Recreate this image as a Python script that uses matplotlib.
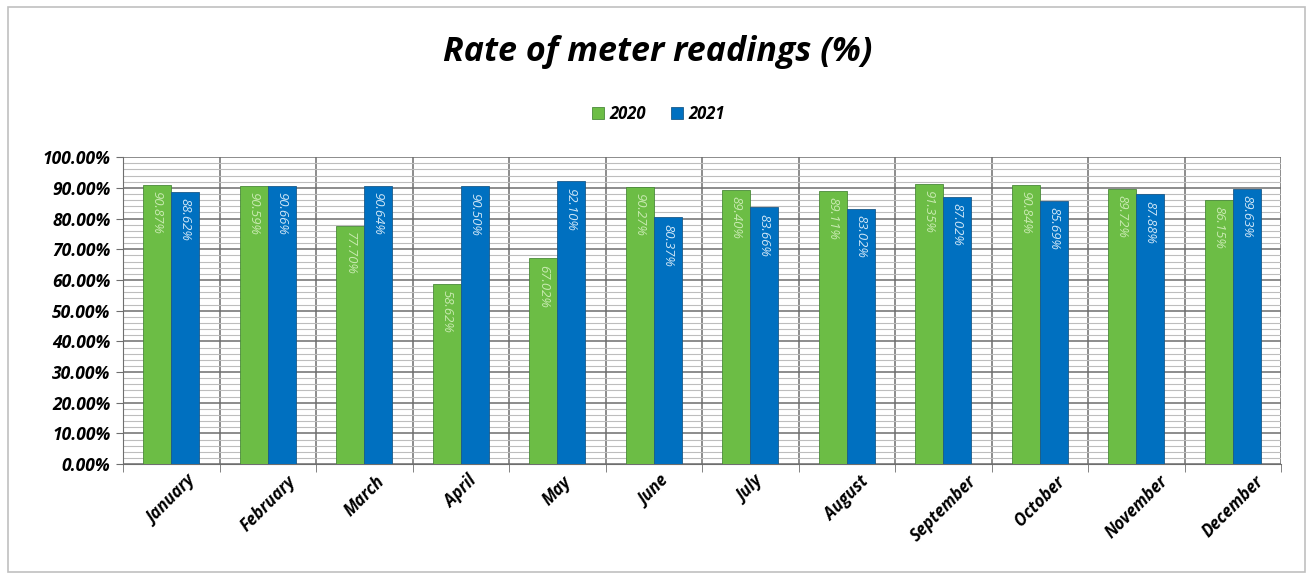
import matplotlib.pyplot as plt
import numpy as np
from matplotlib.ticker import MultipleLocator, FuncFormatter
from matplotlib.patches import Rectangle

months = ['January', 'February', 'March', 'April', 'May', 'June', 'July',
          'August', 'September', 'October', 'November', 'December']
rate_2020 = [90.87, 90.59, 77.70, 58.62, 67.02, 90.27, 89.40, 89.11, 91.35, 90.84, 89.72, 86.15]
rate_2021 = [88.62, 90.66, 90.64, 90.50, 92.10, 80.37, 83.66, 83.02, 87.02, 85.69, 87.88, 89.63]
series = ['2020', '2021']

green = '#6cbd45'
blue = '#0070c0'
font = 'Open Sans'

fig = plt.figure(figsize=(13.16, 5.78), dpi=100)
ax = fig.add_axes([0.0935, 0.197, 0.88, 0.531])

# outer frame of the chart
fig.patches.append(Rectangle((0.006, 0.01), 0.986, 0.978, transform=fig.transFigure,
                             fill=False, edgecolor='#c0c0c0', linewidth=1.2))

x = np.arange(len(months))
w = 0.29
b1 = ax.bar(x - w / 2, rate_2020, w, color=green, edgecolor='#4a8a3a', linewidth=0.6,
            label=series[0], zorder=3)
b2 = ax.bar(x + w / 2, rate_2021, w, color=blue, edgecolor='#1a5a8a', linewidth=0.6,
            label=series[1], zorder=3)

for bars, vals, tc in [(b1, rate_2020, '#c8eab0'), (b2, rate_2021, '#cfe6f7')]:
    for rect, v in zip(bars, vals):
        ax.text(rect.get_x() + rect.get_width() / 2, v - 2.0, f'{v:.2f}%',
                rotation=270, ha='center', va='top', fontsize=9.5, color=tc,
                family=font, style='italic', zorder=4)

ax.set_xlim(-0.5, len(months) - 0.5)
ax.set_ylim(0, 100)
ax.yaxis.set_major_locator(MultipleLocator(10))
ax.yaxis.set_minor_locator(MultipleLocator(2))
ax.yaxis.set_major_formatter(FuncFormatter(lambda v, p: f'{v:.2f}%'))
ax.grid(which='major', axis='y', color='#6e6e6e', linewidth=1.1, zorder=0)
ax.grid(which='minor', axis='y', color='#bdbdbd', linewidth=0.8, zorder=0)

# vertical category separators
ax.set_xticks(np.arange(-0.5, len(months), 1), minor=True)
ax.grid(which='minor', axis='x', color='#6e6e6e', linewidth=1.1, zorder=0)
ax.set_xticks(x)
ax.set_xticklabels(months, rotation=45, ha='center',
                   fontsize=12, family=font, weight='bold', style='italic')
ax.tick_params(axis='x', which='major', length=0, pad=6)
ax.tick_params(axis='x', which='minor', length=6, color='#6e6e6e')
ax.tick_params(axis='y', which='major', length=5, color='#6e6e6e', pad=4)
ax.tick_params(axis='y', which='minor', length=0)
for lab in ax.get_yticklabels():
    lab.set_family(font)
    lab.set_weight('bold')
    lab.set_style('italic')
    lab.set_fontsize(12.5)

for s in ['top', 'right']:
    ax.spines[s].set_visible(False)
ax.spines['left'].set_color('#6e6e6e')
ax.spines['bottom'].set_color('#6e6e6e')

fig.text(0.5, 0.91, 'Rate of meter readings (%)', ha='center', va='center',
         fontsize=24.5, family=font, weight='bold', style='italic')
fig.legend(handles=[b1, b2], labels=series, loc='center', bbox_to_anchor=(0.5, 0.803),
           ncol=2, frameon=False, prop={'family': font, 'weight': 'bold', 'style': 'italic', 'size': 12},
           handlelength=0.75, handleheight=0.75, handletextpad=0.3, columnspacing=1.5)

fig.savefig('out.png', dpi=100)
